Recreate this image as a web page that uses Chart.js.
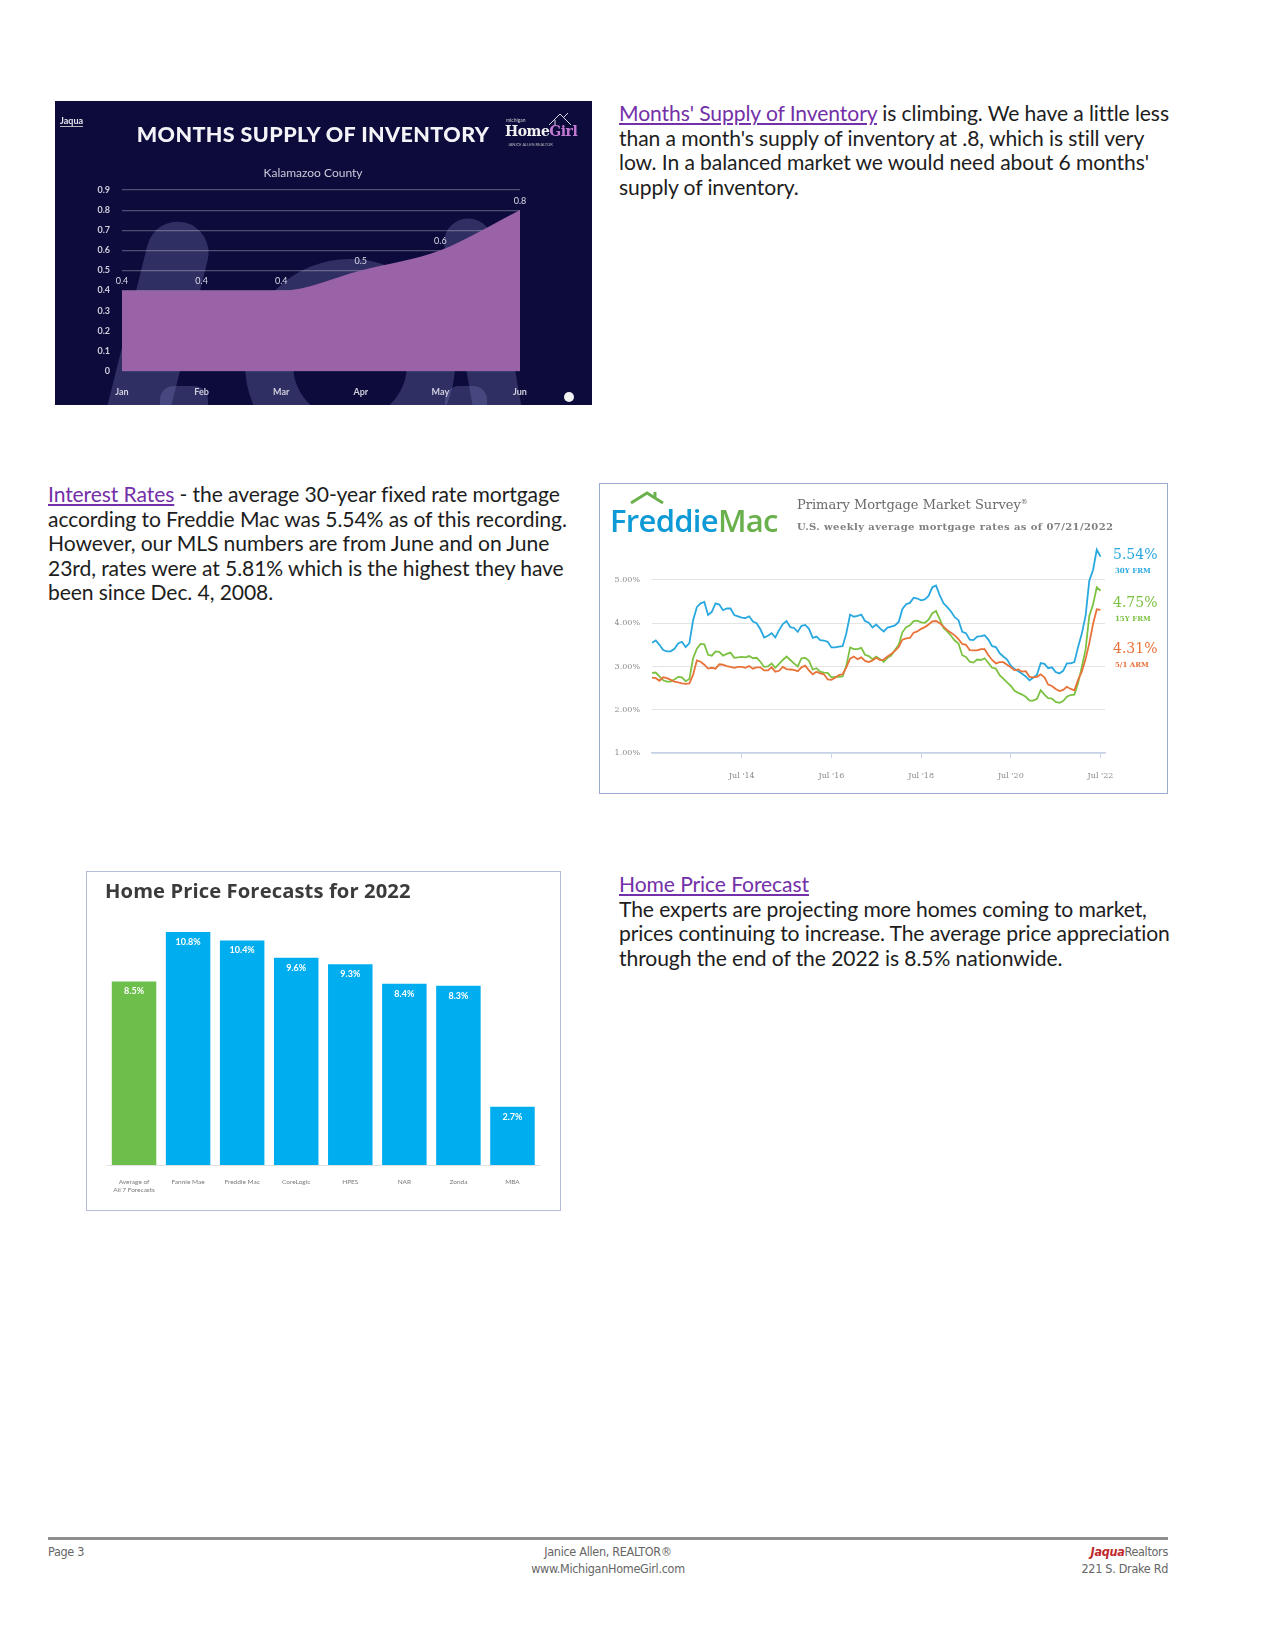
<!DOCTYPE html>
<html><head><meta charset="utf-8">
<script src="https://cdn.jsdelivr.net/npm/chart.js@4.4.1/dist/chart.umd.min.js"></script>
<style>
html,body{margin:0;padding:0;background:#fff;}
#page{position:relative;width:1275px;height:1650px;overflow:hidden;font-family:Lato,"Open Sans",sans-serif;background:#fff;}
.abs{position:absolute;}
.body{font-size:21.1px;line-height:24.5px;color:#1d1d1d;white-space:nowrap;letter-spacing:-0.1px;}
.link{color:#7330a8;text-decoration:underline;}
.ghost{position:absolute;background:rgba(120,125,185,0.32);}
.foot{font-family:"DejaVu Sans Condensed","Liberation Sans Narrow","Liberation Sans",sans-serif;font-size:12.5px;color:#666;line-height:17px;white-space:nowrap;letter-spacing:-0.3px;}
.serif{font-family:"DejaVu Serif","Liberation Serif",serif;}
</style>
</head>
<body>
<div id="page">

<!-- Chart 1: Months supply of inventory -->
<div class="abs" style="left:55px;top:101px;width:537px;height:304px;background:#0c0b3c;overflow:hidden;">
  <div class="ghost" style="left:70px;top:118px;width:62px;height:240px;border-radius:40px;transform:rotate(14deg);"></div>
  <div class="abs" style="left:190px;top:158px;width:210px;height:210px;border-radius:50%;border:48px solid rgba(120,125,185,0.32);box-sizing:border-box;"></div>
  <div class="ghost" style="left:405px;top:116px;width:48px;height:230px;border-radius:30px;transform:rotate(-10deg);"></div>
  <div class="ghost" style="left:105px;top:285px;width:48px;height:40px;border-radius:14px;"></div>
  <div class="ghost" style="left:390px;top:285px;width:42px;height:40px;border-radius:14px;"></div>
  <canvas id="c1" width="537" height="304" style="position:absolute;left:0;top:0;"></canvas>
  <div class="abs" style="left:5px;top:14px;color:#e8e8f0;font:bold 9px Lato,sans-serif;border-bottom:1px solid #bbb;">Jaqua</div>
  <div class="abs" style="left:0;width:516px;top:20px;text-align:center;color:#f4f4f8;font:900 21.5px Lato,sans-serif;letter-spacing:0.4px;">MONTHS SUPPLY OF INVENTORY</div>
  <div class="abs" style="left:0;width:516px;top:64px;text-align:center;color:#c9c9d8;font:12px Lato,sans-serif;">Kalamazoo County</div>
  <div class="abs" style="left:448px;top:8px;width:86px;height:42px;">
    <svg width="86" height="42" style="position:absolute;left:0;top:0">
      <path d="M46 16 L57 5 L68 16 M52 11 L52 16 M61 8 L65 4" stroke="#d9d9e8" stroke-width="1" fill="none"/>
    </svg>
    <div class="abs" style="left:3px;top:8px;color:#ccc;font:5px Lato,sans-serif;">michigan</div>
    <div class="abs" style="left:2px;top:14px;font:bold 14px 'DejaVu Serif',serif;white-space:nowrap;letter-spacing:-0.5px;"><span style="color:#f0f0f0">Home</span><span style="color:#c07ad0">Girl</span></div>
    <div class="abs" style="left:5px;top:33px;color:#bbb;font:4px Lato,sans-serif;white-space:nowrap;">JANICE ALLEN REALTOR</div>
  </div>
  <div class="abs" style="left:509px;top:291px;width:10px;height:10px;border-radius:50%;background:#f2f2f2;"></div>
</div>

<div class="abs body" style="left:619px;top:101px;"><span class="link">Months' Supply of Inventory</span> is climbing. We have a little less<br>than a month's supply of inventory at .8, which is still very<br>low. In a balanced market we would need about 6 months'<br>supply of inventory.</div>

<div class="abs body" style="left:48px;top:482px;"><span class="link">Interest Rates</span> - the average 30-year fixed rate mortgage<br>according to Freddie Mac was 5.54% as of this recording.<br>However, our MLS numbers are from June and on June<br>23rd, rates were at 5.81% which is the highest they have<br>been since Dec. 4, 2008.</div>

<!-- Chart 2: Freddie Mac -->
<div class="abs" style="left:599px;top:483px;width:569px;height:311px;border:1.5px solid #9aaad0;box-sizing:border-box;"></div>
<canvas id="c2" width="569" height="311" style="position:absolute;left:599px;top:483px;"></canvas>
<svg class="abs" style="left:625px;top:488px" width="45" height="18">
  <path d="M6 15 L22 5 L38 15" stroke="#6ab04c" stroke-width="3" fill="none"/>
  <path d="M30 9 L30 4" stroke="#6ab04c" stroke-width="3"/>
</svg>
<div class="abs" style="left:610px;top:499px;font:600 31px 'Open Sans',sans-serif;letter-spacing:-0.7px;white-space:nowrap;"><span style="color:#0d9ad6">Freddie</span><span style="color:#6ab04c">Mac</span></div>
<div class="abs serif" style="left:797px;top:497px;font-size:13px;color:#6a6a6a;white-space:nowrap;">Primary Mortgage Market Survey<sup style="font-size:7px">®</sup></div>
<div class="abs serif" style="left:797px;top:521px;font-size:10px;font-weight:bold;color:#808080;letter-spacing:0.4px;white-space:nowrap;">U.S. weekly average mortgage rates as of 07/21/2022</div>
<div class="abs serif" style="left:1113px;top:546px;font-size:14px;color:#29a8e0;">5.54%</div>
<div class="abs serif" style="left:1115px;top:566px;font-size:7px;font-weight:bold;color:#29a8e0;">30Y FRM</div>
<div class="abs serif" style="left:1113px;top:594px;font-size:14px;color:#7cc242;">4.75%</div>
<div class="abs serif" style="left:1115px;top:614px;font-size:7px;font-weight:bold;color:#7cc242;">15Y FRM</div>
<div class="abs serif" style="left:1113px;top:640px;font-size:14px;color:#e8733a;">4.31%</div>
<div class="abs serif" style="left:1115px;top:660px;font-size:7px;font-weight:bold;color:#e8733a;">5/1 ARM</div>

<!-- Chart 3: Home price forecasts -->
<div class="abs" style="left:86px;top:871px;width:475px;height:340px;border:1.5px solid #b3bdd6;box-sizing:border-box;"></div>
<canvas id="c3" width="475" height="340" style="position:absolute;left:86px;top:871px;"></canvas>
<div class="abs" style="left:105px;top:876px;font:bold 20.2px 'Open Sans',sans-serif;color:#3b3b3b;white-space:nowrap;letter-spacing:0.1px;">Home Price Forecasts for 2022</div>

<div class="abs body" style="left:619px;top:872px;"><span class="link">Home Price Forecast</span><br>The experts are projecting more homes coming to market,<br>prices continuing to increase. The average price appreciation<br>through the end of the 2022 is 8.5% nationwide.</div>

<!-- Footer -->
<div class="abs" style="left:48px;top:1537px;width:1120px;height:3px;background:#8e8e8e;"></div>
<div class="abs foot" style="left:48px;top:1543px;">Page 3</div>
<div class="abs foot" style="left:408px;width:400px;top:1543px;text-align:center;">Janice Allen, REALTOR®<br>www.MichiganHomeGirl.com</div>
<div class="abs foot" style="right:107px;top:1543px;text-align:right;"><span style="color:#c0282d;font-style:italic;font-weight:bold;">Jaqua</span>Realtors<br>221 S. Drake Rd</div>

</div>

<script>
// ---------- Chart 1 data ----------
const invMonths = ["Jan","Feb","Mar","Apr","May","Jun"];
const invValues = [0.4, 0.4, 0.4, 0.5, 0.6, 0.8];

// ---------- Chart 2 data (monthly, Jul 2012 - Jul 2022) ----------
const rateStartYear = 2012.5;
const rate30 = [
  3.55,3.60,3.50,3.38,3.35,3.35,
  3.41,3.53,3.57,3.45,3.54,4.07,4.37,4.46,4.49,4.19,4.26,4.46,
  4.43,4.30,4.34,4.34,4.19,4.16,4.13,4.12,4.16,4.04,4.00,3.86,
  3.67,3.71,3.77,3.67,3.84,3.98,4.05,3.91,3.89,3.80,3.94,3.96,
  3.87,3.66,3.69,3.61,3.60,3.57,3.44,3.44,3.46,3.47,3.77,4.20,
  4.15,4.17,4.20,4.05,4.01,3.90,3.97,3.88,3.81,3.90,3.92,3.95,
  4.03,4.33,4.44,4.47,4.59,4.57,4.53,4.55,4.63,4.83,4.87,4.64,
  4.46,4.37,4.27,4.14,4.07,3.80,3.77,3.62,3.61,3.69,3.70,3.72,
  3.62,3.47,3.45,3.31,3.23,3.16,3.02,2.94,2.89,2.83,2.77,2.68,
  2.74,2.81,3.08,3.06,2.96,2.98,2.87,2.84,2.90,3.07,3.07,3.10,
  3.45,3.76,4.17,4.98,5.23,5.70,5.54
];
const rate15 = [
  2.85,2.86,2.77,2.68,2.65,2.65,
  2.70,2.76,2.75,2.66,2.71,3.19,3.41,3.52,3.51,3.27,3.25,3.35,
  3.34,3.25,3.29,3.32,3.20,3.21,3.22,3.21,3.24,3.19,3.20,3.11,
  2.99,3.00,3.07,2.97,3.06,3.15,3.23,3.15,3.07,3.00,3.19,3.20,
  3.13,2.93,2.96,2.88,2.86,2.85,2.75,2.76,2.76,2.77,3.02,3.44,
  3.40,3.40,3.43,3.27,3.24,3.17,3.23,3.17,3.11,3.20,3.25,3.38,
  3.50,3.79,3.91,3.95,4.05,4.06,4.02,4.01,4.08,4.23,4.28,4.09,
  3.89,3.81,3.71,3.60,3.53,3.26,3.22,3.11,3.09,3.16,3.15,3.19,
  3.08,2.97,2.95,2.80,2.72,2.63,2.55,2.44,2.39,2.35,2.30,2.21,
  2.21,2.25,2.45,2.35,2.27,2.26,2.18,2.16,2.20,2.30,2.34,2.35,
  2.62,2.99,3.39,4.17,4.43,4.83,4.75
];
const rateArm = [
  2.74,2.73,2.67,2.75,2.73,2.69,
  2.65,2.63,2.61,2.60,2.61,2.81,3.14,3.11,3.04,2.95,2.97,2.95,
  3.05,3.04,3.01,2.99,2.97,2.99,2.99,2.97,3.01,2.95,2.98,2.98,
  2.91,2.91,2.98,2.88,2.90,2.99,2.94,2.93,2.92,2.89,2.98,3.02,
  2.91,2.82,2.88,2.84,2.82,2.70,2.69,2.74,2.80,2.82,2.98,3.18,
  3.23,3.17,3.21,3.13,3.10,3.14,3.20,3.15,3.16,3.23,3.29,3.36,
  3.45,3.62,3.65,3.66,3.78,3.81,3.87,3.91,3.97,4.04,4.05,4.00,
  3.92,3.84,3.78,3.72,3.63,3.52,3.50,3.38,3.37,3.37,3.40,3.40,
  3.26,3.15,3.07,3.10,3.10,3.04,2.98,2.91,2.93,2.88,2.89,2.76,
  2.75,2.76,2.82,2.75,2.58,2.55,2.48,2.43,2.46,2.53,2.48,2.45,
  2.69,2.88,3.17,3.54,3.98,4.32,4.31
];
const rateYTicks = [1,2,3,4,5];
const rateXTickValues = [2014.5, 2016.5, 2018.5, 2020.5, 2022.5];
const rateXTickLabels = ["Jul '14","Jul '16","Jul '18","Jul '20","Jul '22"];

// ---------- Chart 3 data ----------
const forecastNames = [["Average of","All 7 Forecasts"],"Fannie Mae","Freddie Mac","CoreLogic","HPES","NAR","Zonda","MBA"];
const forecastValues = [8.5, 10.8, 10.4, 9.6, 9.3, 8.4, 8.3, 2.7];

// ---------- Chart 1 ----------
const pointLabels = {
  id:'pointLabels',
  afterDatasetsDraw(chart){
    const ctx = chart.ctx;
    const meta = chart.getDatasetMeta(0);
    ctx.save();
    ctx.fillStyle = '#dcdce8';
    ctx.font = '9px Lato, sans-serif';
    ctx.textAlign = 'center';
    ctx.textBaseline = 'bottom';
    meta.data.forEach((el,i)=>{ ctx.fillText(String(invValues[i]), el.x, el.y - 5); });
    ctx.restore();
  }
};
new Chart(document.getElementById('c1'), {
  type:'line',
  data:{labels:invMonths, datasets:[{data:invValues, fill:'origin', backgroundColor:'#9a62a7', borderColor:'#9a62a7', borderWidth:0, pointRadius:0, cubicInterpolationMode:'monotone'}]},
  options:{
    responsive:false, animation:false,
    layout:{padding:{left:0,right:72,top:89,bottom:0}},
    plugins:{legend:{display:false}, tooltip:{enabled:false}},
    scales:{
      x:{grid:{display:false}, border:{display:false}, ticks:{color:'#cfcfdd', font:{size:9, family:'Lato', weight:'bold'}, padding:8},
         afterFit(s){ s.height = 34; }},
      y:{min:0, max:0.9, grid:{color:'rgba(255,255,255,0.28)', lineWidth:1.2, drawTicks:false}, border:{display:false},
         ticks:{stepSize:0.1, color:'#cfcfdd', font:{size:9, family:'Lato', weight:'bold'}, padding:12, callback:(v)=>String(+v.toFixed(1))},
         afterFit(s){ s.width = 67; }}
    }
  },
  plugins:[pointLabels]
});

// ---------- Chart 2 ----------
const toPoints = (arr)=>arr.map((v,i)=>({x: rateStartYear + i/12, y: v}));
new Chart(document.getElementById('c2'), {
  type:'line',
  data:{datasets:[
    {data:toPoints(rateArm), borderColor:'#e8733a', borderWidth:1.8, pointRadius:0, tension:0},
    {data:toPoints(rate15), borderColor:'#7cc242', borderWidth:1.8, pointRadius:0, tension:0},
    {data:toPoints(rate30), borderColor:'#29a8e0', borderWidth:1.8, pointRadius:0, tension:0}
  ]},
  options:{
    responsive:false, animation:false,
    layout:{padding:{left:0,right:63,top:58,bottom:0}},
    plugins:{legend:{display:false}, tooltip:{enabled:false}},
    scales:{
      x:{type:'linear', min:2012.5, max:2022.6,
         afterBuildTicks(s){ s.ticks = rateXTickValues.map(v=>({value:v})); },
         ticks:{color:'#8a8a8a', font:{size:8, family:'DejaVu Serif'}, padding:13, maxRotation:0,
                callback:(v)=>{ const i = rateXTickValues.indexOf(v); return i>=0 ? rateXTickLabels[i] : ''; }},
         grid:{drawOnChartArea:false, drawTicks:true, tickLength:5, color:'#c6d1e6'},
         border:{color:'#c6d1e6', width:1.5},
         afterFit(s){ s.height = 41; }},
      y:{min:1, max:5.9,
         afterBuildTicks(s){ s.ticks = rateYTicks.map(v=>({value:v})); },
         ticks:{color:'#8a8a8a', font:{size:8, family:'DejaVu Serif'}, padding:12, callback:(v)=>v.toFixed(2)+'%'},
         grid:{color:'#e4e4e4', drawTicks:false}, border:{display:false},
         afterFit(s){ s.width = 53; }}
    }
  }
});

// ---------- Chart 3 ----------
const barLabels = {
  id:'barLabels',
  afterDatasetsDraw(chart){
    const ctx = chart.ctx;
    const meta = chart.getDatasetMeta(0);
    ctx.save();
    ctx.fillStyle = '#ffffff';
    ctx.font = 'bold 9px Lato, sans-serif';
    ctx.textAlign = 'center';
    ctx.textBaseline = 'middle';
    meta.data.forEach((el,i)=>{ ctx.fillText(forecastValues[i].toFixed(1)+'%', el.x, el.y + 10); });
    ctx.restore();
  }
};
new Chart(document.getElementById('c3'), {
  type:'bar',
  data:{labels:forecastNames, datasets:[{data:forecastValues,
    backgroundColor:forecastValues.map((v,i)=> i===0 ? '#6dbf4b' : '#00aeef'),
    categoryPercentage:1, barPercentage:0.823}]},
  options:{
    responsive:false, animation:false,
    layout:{padding:{left:21,right:21.5,top:35,bottom:0}},
    plugins:{legend:{display:false}, tooltip:{enabled:false}},
    scales:{
      x:{grid:{display:false}, border:{color:'#e0e0e0'},
         ticks:{color:'#7a7a7a', font:{size:6.5, family:'Lato'}, padding:5, maxRotation:0, autoSkip:false},
         afterFit(s){ s.height = 46; }},
      y:{display:false, min:0, max:12}
    }
  },
  plugins:[barLabels]
});
</script>
</body></html>
